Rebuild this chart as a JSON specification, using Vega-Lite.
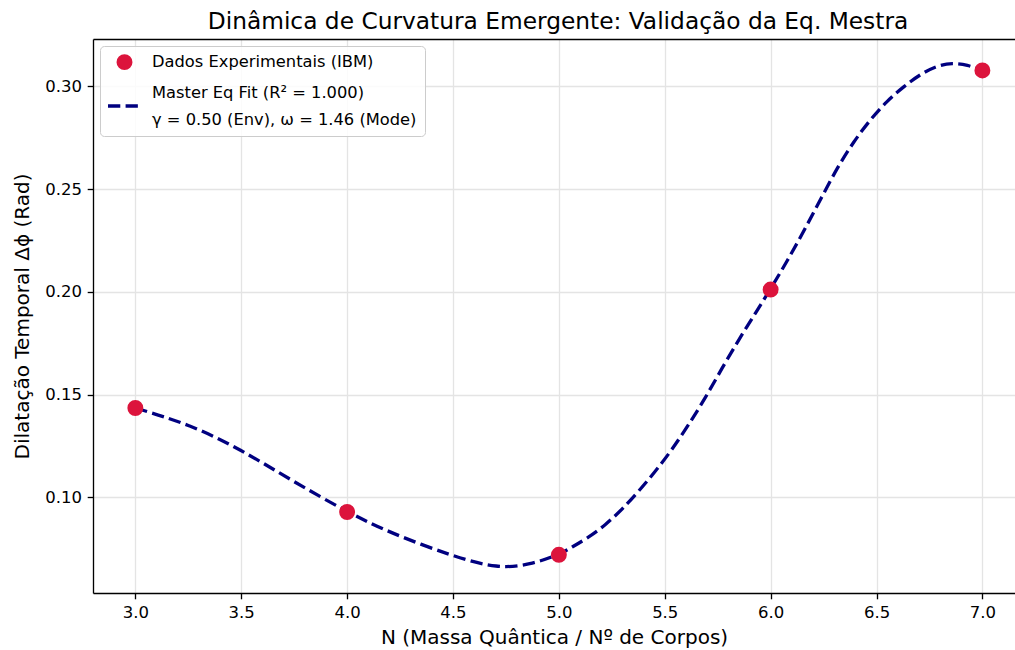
{
  "$schema": "https://vega.github.io/schema/vega-lite/v6.json",
  "width": 922,
  "height": 554,
  "autosize": {"type": "none"},
  "padding": {"left": 93, "top": 39, "right": 0, "bottom": 57},
  "background": "white",
  "title": {
    "text": "Dinâmica de Curvatura Emergente: Validação da Eq. Mestra",
    "font": "DejaVu Sans",
    "fontSize": 23.3,
    "fontWeight": "normal",
    "color": "#000000",
    "anchor": "middle",
    "frame": "group",
    "dx": 4,
    "baseline": "alphabetic",
    "offset": -13
  },
  "config": {
    "view": {"stroke": null},
    "font": "DejaVu Sans",
    "style": {"guide-label": {"lineHeight": 27}},
    "axis": {
      "domainColor": "#000000",
      "domainWidth": 1.33,
      "tickColor": "#000000",
      "tickWidth": 1.33,
      "tickSize": 5.8,
      "labelFont": "DejaVu Sans",
      "labelFontSize": 16.5,
      "labelColor": "#000000",
      "labelPadding": 5.8,
      "titleFont": "DejaVu Sans",
      "titleFontSize": 20,
      "titleFontWeight": "normal",
      "titleColor": "#000000",
      "gridColor": "#e4e4e4",
      "gridWidth": 1.33
    },
    "legend": {
      "title": null,
      "orient": "top-left",
      "offset": 7,
      "padding": 8,
      "fillColor": "rgba(255,255,255,0.85)",
      "strokeColor": "#cccccc",
      "cornerRadius": 4,
      "symbolStrokeWidth": 0,
      "symbolOpacity": 1,
      "labelFont": "DejaVu Sans",
      "labelFontSize": 16.3,
      "labelColor": "#000000",
      "labelOffset": 11,
      "labelLimit": 500,
      "rowPadding": 5
    }
  },
  "datasets": {
    "pts": [
      {"N": 3, "dphi": 0.1435, "series": "dados"},
      {"N": 4, "dphi": 0.0929, "series": "dados"},
      {"N": 5, "dphi": 0.0721, "series": "dados"},
      {"N": 6, "dphi": 0.2011, "series": "dados"},
      {"N": 7, "dphi": 0.3077, "series": "dados"}
    ],
    "fit": [
      {"N": 3.0, "dphi": 0.1435},
      {"N": 3.26, "dphi": 0.1354},
      {"N": 3.5, "dphi": 0.1232},
      {"N": 3.732, "dphi": 0.1086},
      {"N": 4.0, "dphi": 0.0929},
      {"N": 4.204, "dphi": 0.0827},
      {"N": 4.5, "dphi": 0.0713},
      {"N": 4.713, "dphi": 0.0653},
      {"N": 4.865, "dphi": 0.0673},
      {"N": 5.0, "dphi": 0.0721},
      {"N": 5.062, "dphi": 0.0758},
      {"N": 5.141, "dphi": 0.0806},
      {"N": 5.220, "dphi": 0.0866},
      {"N": 5.298, "dphi": 0.0941},
      {"N": 5.377, "dphi": 0.1030},
      {"N": 5.456, "dphi": 0.1127},
      {"N": 5.535, "dphi": 0.1233},
      {"N": 5.613, "dphi": 0.1354},
      {"N": 5.692, "dphi": 0.1484},
      {"N": 5.771, "dphi": 0.1630},
      {"N": 5.850, "dphi": 0.1768},
      {"N": 5.929, "dphi": 0.1898},
      {"N": 6.0, "dphi": 0.2015},
      {"N": 6.078, "dphi": 0.2149},
      {"N": 6.157, "dphi": 0.2296},
      {"N": 6.236, "dphi": 0.2450},
      {"N": 6.315, "dphi": 0.2605},
      {"N": 6.393, "dphi": 0.2732},
      {"N": 6.472, "dphi": 0.2840},
      {"N": 6.551, "dphi": 0.2930},
      {"N": 6.630, "dphi": 0.3000},
      {"N": 6.709, "dphi": 0.3060},
      {"N": 6.787, "dphi": 0.3101},
      {"N": 6.858, "dphi": 0.3114},
      {"N": 6.929, "dphi": 0.3104},
      {"N": 7.0, "dphi": 0.3078}
    ]
  },
  "layer": [
    {
      "data": {"name": "fit"},
      "mark": {"type": "line", "color": "#000080", "strokeWidth": 3.3, "strokeDash": [12.3, 5.3], "interpolate": "basis"},
      "encoding": {
        "x": {
          "field": "N", "type": "quantitative",
          "scale": {"domain": [2.8, 7.154], "nice": false, "zero": false},
          "axis": {"orient": "top", "labels": false, "ticks": false, "grid": false, "domain": true, "title": null}
        },
        "y": {
          "field": "dphi", "type": "quantitative",
          "scale": {"domain": [0.0535, 0.323], "nice": false, "zero": false},
          "axis": {"values": [0.10, 0.15, 0.20, 0.25, 0.30], "format": ".2f", "title": "Dilatação Temporal Δϕ (Rad)", "titlePadding": 12, "grid": true}
        }
      }
    },
    {
      "data": {"name": "pts"},
      "mark": {"type": "point", "filled": true, "opacity": 1},
      "encoding": {
        "x": {
          "field": "N", "type": "quantitative",
          "scale": {"domain": [2.8, 7.154], "nice": false, "zero": false},
          "axis": {"orient": "bottom", "grid": true, "values": [3, 3.5, 4, 4.5, 5, 5.5, 6, 6.5, 7], "format": ".1f", "title": "N (Massa Quântica / Nº de Corpos)", "titlePadding": 6}
        },
        "y": {
          "field": "dphi", "type": "quantitative",
          "scale": {"domain": [0.0535, 0.323], "nice": false, "zero": false},
          "axis": {"values": [0.10, 0.15, 0.20, 0.25, 0.30], "format": ".2f", "title": "Dilatação Temporal Δϕ (Rad)", "titlePadding": 12, "grid": true}
        },
        "color": {
          "field": "series", "type": "nominal",
          "scale": {"domain": ["dados", "fit"], "range": ["#DC143C", "#000080"]},
          "legend": {
            "labelExpr": "datum.value === 'fit' ? ['Master Eq Fit (R² = 1.000)', 'γ = 0.50 (Env), ω = 1.46 (Mode)'] : 'Dados Experimentais (IBM)'"
          }
        },
        "shape": {
          "field": "series", "type": "nominal",
          "scale": {"domain": ["dados", "fit"], "range": ["circle", "M-1,0.718H-0.255V0.918H-1Z M0.066,0.718H0.81V0.918H0.066Z"]},
          "legend": {
            "labelExpr": "datum.value === 'fit' ? ['Master Eq Fit (R² = 1.000)', 'γ = 0.50 (Env), ω = 1.46 (Mode)'] : 'Dados Experimentais (IBM)'"
          }
        },
        "size": {
          "field": "series", "type": "nominal",
          "scale": {"domain": ["dados", "fit"], "range": [254, 1089]},
          "legend": {
            "labelExpr": "datum.value === 'fit' ? ['Master Eq Fit (R² = 1.000)', 'γ = 0.50 (Env), ω = 1.46 (Mode)'] : 'Dados Experimentais (IBM)'"
          }
        }
      }
    }
  ],
  "resolve": {"axis": {"x": "independent"}}
}
